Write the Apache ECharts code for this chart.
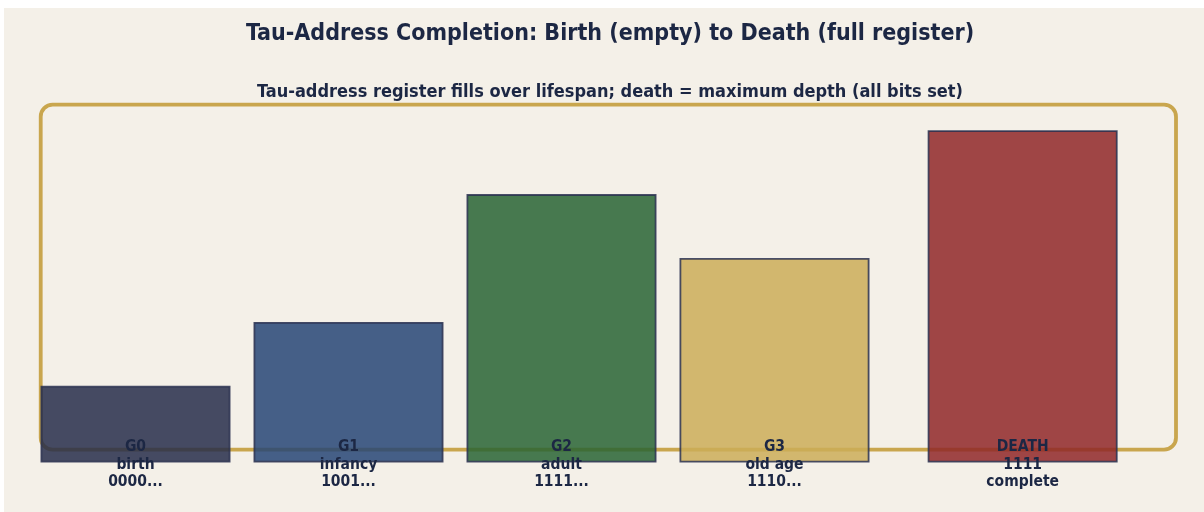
<!DOCTYPE html>
<html><head><meta charset="utf-8">
<script src="https://cdn.jsdelivr.net/npm/echarts@6/dist/echarts.min.js"></script>
<style>
html,body{margin:0;padding:0;background:#ffffff;}
#c{position:absolute;left:4px;top:8px;width:1200px;height:504px;}
</style></head>
<body><div id="c"></div>
<script>
// ---- data ----
const stageNames = ['G0', 'G1', 'G2', 'G3', 'DEATH'];
const stageDesc = ['birth', 'infancy', 'adult', 'old age', '1111'];
const stageBits = ['0000...', '1001...', '1111...', '1110...', 'complete'];
const stageX = [0, 1, 2, 3, 4.165];
const stageDepth = [0.3, 0.55, 1.05, 0.8, 1.3];
const stageColors = ['#262d4a', '#264576', '#286434', '#cbad58', '#8f2728'];
const boxExtent = [-0.445, 0.05, 4.885, 1.4];
const titleText = 'Tau-Address Completion: Birth (empty) to Death (full register)';
const subtitleText = 'Tau-address register fills over lifespan; death = maximum depth (all bits set)';

const FONT = "'DejaVu Sans Condensed', 'DejaVu Sans', sans-serif";
const NAVY = '#1c2744';

const chart = echarts.init(document.getElementById('c'));
const barData = stageX.map((x, i) => ({
  value: [x, stageDepth[i]],
  itemStyle: { color: stageColors[i], opacity: 0.85, borderColor: '#2a3150', borderWidth: 1.8 }
}));
const labelData = stageX.map((x, i) => ({
  value: [x, 0],
  label: { formatter: stageNames[i] + '\n' + stageDesc[i] + '\n' + stageBits[i] }
}));

chart.setOption({
  backgroundColor: '#f4f0e8',
  animation: false,
  title: [
    { text: titleText, left: 601, textAlign: 'center', top: 10,
      textStyle: { fontFamily: FONT, fontWeight: 'bold', fontSize: 23, color: NAVY } },
    { text: subtitleText, left: 601, textAlign: 'center', top: 70,
      textStyle: { fontFamily: FONT, fontWeight: 'bold', fontSize: 18, color: NAVY } }
  ],
  grid: { left: 3.7, right: 3.5, top: 71.1, bottom: 49.5 },
  xAxis: { type: 'value', min: -0.6, max: 5.0, show: false },
  yAxis: { type: 'value', min: 0, max: 1.5, show: false },
  series: [
    {
      type: 'custom', z: 1, silent: true,
      data: [boxExtent],
      renderItem: function (params, api) {
        const p0 = api.coord([api.value(0), api.value(3)]);
        const p1 = api.coord([api.value(2), api.value(1)]);
        return {
          type: 'rect',
          shape: { x: p0[0], y: p0[1], width: p1[0] - p0[0], height: p1[1] - p0[1], r: 12 },
          style: { fill: 'none', stroke: '#c9a64e', lineWidth: 3.8 }
        };
      }
    },
    {
      type: 'bar', z: 2, barWidth: 190,
      data: barData
    },
    {
      type: 'scatter', z: 3, symbolSize: 0, silent: true,
      itemStyle: { opacity: 1 },
      data: labelData,
      label: {
        show: true, position: 'inside', offset: [0, 2],
        fontFamily: FONT, fontWeight: 'bold', fontSize: 15.5, lineHeight: 17.5,
        color: NAVY, align: 'center'
      }
    }
  ]
});
</script></body></html>
